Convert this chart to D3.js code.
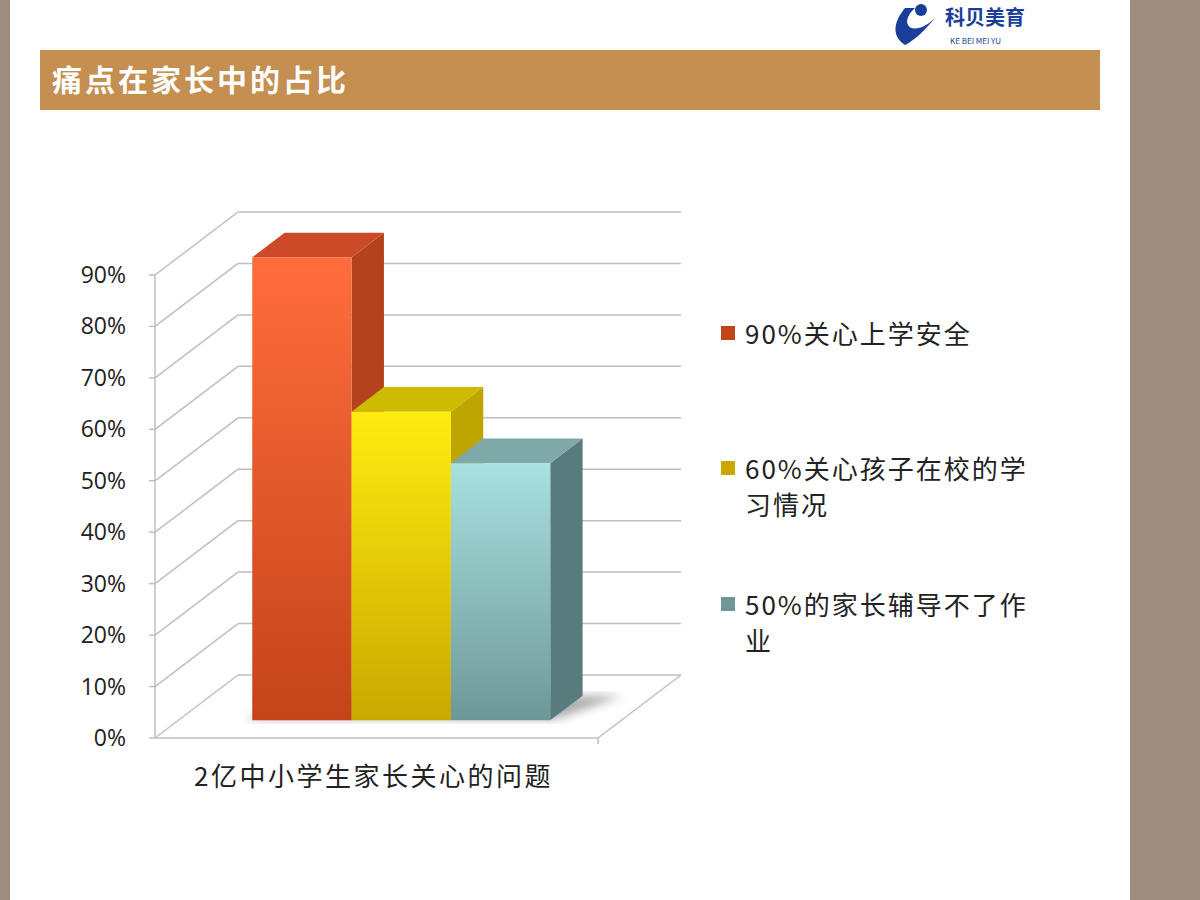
<!DOCTYPE html>
<html><head><meta charset="utf-8">
<script src="https://cdn.jsdelivr.net/npm/d3@7"></script>
<style>body{margin:0;background:#fff;font-family:"Noto Sans CJK SC","Noto Sans",sans-serif}</style>
</head><body>
<svg id="c" width="1200" height="900"></svg>
<script>
const title = "痛点在家长中的占比";
const category = "2亿中小学生家长关心的问题";
const series = ["90%关心上学安全", "60%关心孩子在校的学习情况", "50%的家长辅导不了作业"];
const legendLines = [["90%关心上学安全"], ["60%关心孩子在校的学", "习情况"], ["50%的家长辅导不了作", "业"]];
const values = [0.9, 0.6, 0.5];
const ticks = [0, 0.1, 0.2, 0.3, 0.4, 0.5, 0.6, 0.7, 0.8, 0.9];
const colors = [
  {top:"#CC4A28", front:["#FF6D3C","#C4441A"], side:"#B5421F"},
  {top:"#CDBB00", front:["#FFEC10","#C9A800"], side:"#BFA500"},
  {top:"#7FA8A8", front:["#A9E0E0","#6E9898"], side:"#587C7E"}
];
const svg = d3.select("#c");
svg.append("rect").attr("x",0).attr("y",0).attr("width",10).attr("height",900).attr("fill","#9E8C80");
svg.append("rect").attr("x",1130).attr("y",0).attr("width",70).attr("height",900).attr("fill","#9E8C80");
svg.append("rect").attr("x",40).attr("y",50).attr("width",1060).attr("height",60).attr("fill","#C48F50");
svg.append("text").attr("x",52).attr("y",91).attr("fill","#fff").attr("font-size",30).attr("letter-spacing",3).attr("font-weight","bold").text(title);
// logo
const lg = svg.append("g");
lg.append("path").attr("d","M905,8 C895,20 890,35 905,45 C915,40 925,30 935,18 C925,28 912,32 908,25 C905,20 910,12 915,8Z").attr("fill","#1A3F9A");
lg.append("circle").attr("cx",921).attr("cy",10).attr("r",6).attr("fill","#1A3F9A");
lg.append("text").attr("x",945).attr("y",25).attr("fill","#1A3F9A").attr("font-size",20).attr("font-weight","bold").text("科贝美育");
lg.append("text").attr("x",950).attr("y",44).attr("fill","#1A3F9A").attr("font-size",8).text("KE  BEI  MEI  YU");

const x0 = 155, W = 443, dx = 83, dy = -63;
const y = d3.scaleLinear().domain([0,0.9]).range([738,275]);
const P = (x, v, d) => [x0 + x + d*dx, y(v) + d*dy];
const g = svg.append("g");
const line = (a,b)=>g.append("line").attr("x1",a[0]).attr("y1",a[1]).attr("x2",b[0]).attr("y2",b[1]).attr("stroke","#BFBFBF").attr("stroke-width",1.5);
ticks.forEach(t=>{
  line(P(0,t,0),P(0,t,1)); line(P(0,t,1),P(W,t,1));
  line([x0-6,y(t)],[x0,y(t)]);
  g.append("text").attr("x",126).attr("y",y(t)+8).attr("text-anchor","end").attr("font-size",23).attr("fill","#222").attr("font-family","Open Sans, sans-serif").text(d3.format(".0%")(t));
});
line(P(0,0,0),P(W,0,0)); line(P(W,0,0),P(W,0,1));
line(P(0,0,0),P(0,0.9,0)); line([x0+W,y(0)],[x0+W,y(0)+6]);
g.append("text").attr("x",x0+W/2-3).attr("y",786).attr("text-anchor","middle").attr("font-size",26).attr("letter-spacing",2.5).attr("fill","#222").text(category);

const xb = d3.scaleBand().domain(series).range([74,372]).padding(0);
const d1 = 0.28, d2 = 0.67;
const defs = svg.append("defs");
const sh = defs.append("filter").attr("id","sh").attr("x","-20%").attr("y","-20%").attr("width","140%").attr("height","140%");
sh.append("feGaussianBlur").attr("stdDeviation",5);
const poly = (pts, fill) => g.append("polygon").attr("points", pts.map(p=>p.join(",")).join(" ")).attr("fill",fill);
poly([P(xb(series[0])-10,0,d1+0.02),P(xb(series[2])+xb.bandwidth()+5,0,d1+0.02),P(xb(series[2])+xb.bandwidth()+40,0,d2),P(xb(series[0])+30,0,d2)],"#777").attr("filter","url(#sh)").attr("opacity",0.6);
series.forEach((s,i)=>{
  const c = colors[i], xl = xb(s), xr = xl + xb.bandwidth(), v = values[i];
  const gid = "gf"+i;
  const gr = defs.append("linearGradient").attr("id",gid).attr("x1",0).attr("y1",0).attr("x2",0).attr("y2",1);
  gr.append("stop").attr("offset",0).attr("stop-color",c.front[0]);
  gr.append("stop").attr("offset",1).attr("stop-color",c.front[1]);
  poly([P(xr,0,d1),P(xr,0,d2),P(xr,v,d2),P(xr,v,d1)], c.side);
  poly([P(xl,v,d1),P(xr,v,d1),P(xr,v,d2),P(xl,v,d2)], c.top);
  poly([P(xl,0,d1),P(xr,0,d1),P(xr,v,d1),P(xl,v,d1)], `url(#${gid})`);
});
// legend
const ly = [335, 470, 606];
legendLines.forEach((ls,i)=>{
  svg.append("rect").attr("x",721).attr("y",ly[i]-9).attr("width",14).attr("height",14).attr("fill",colors[i].front[1]);
  ls.forEach((t,j)=>svg.append("text").attr("x",745).attr("y",ly[i]+9+j*36).attr("font-size",26).attr("letter-spacing",2).attr("fill","#222").text(t));
});
</script></body></html>
